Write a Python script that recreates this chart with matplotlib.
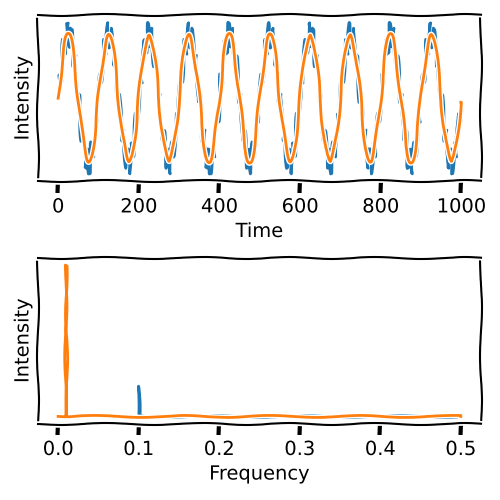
import numpy as np
import matplotlib
matplotlib.use("Agg")
import matplotlib.pyplot as plt

# Values
n_samples = 1000                 # time runs 0..1000
component_freqs = [0.01, 0.1]    # sinusoid frequencies visible in the spectrum
component_amps = [1.0, 0.2]      # relative heights of the spectral peaks
cutoff_freq = 0.05               # orange = low-pass filtered signal
time_ticks = [0, 200, 400, 600, 800, 1000]
freq_ticks = [0.0, 0.1, 0.2, 0.3, 0.4, 0.5]

t = np.arange(n_samples)
raw = np.zeros(n_samples)
filtered = np.zeros(n_samples)
for f, a in zip(component_freqs, component_amps):
    comp = a * np.sin(2 * np.pi * f * t)
    raw += comp
    if f < cutoff_freq:
        filtered += comp

freqs = np.fft.rfftfreq(n_samples)
spec_raw = np.abs(np.fft.rfft(raw))
spec_filt = np.abs(np.fft.rfft(filtered))

with plt.xkcd():
    plt.rcParams['font.family'] = ['DejaVu Sans']
    fig, (ax1, ax2) = plt.subplots(2, 1, figsize=(5, 5), dpi=100)
    fig.subplots_adjust(left=0.076, right=0.962, top=0.97, bottom=0.152, hspace=0.457)

    ax1.plot(t, raw, color='#1f77b4')
    ax1.plot(t, filtered, color='#ff7f0e')
    ax1.set_xticks(time_ticks)
    ax1.set_yticks([])
    ax1.set_xlabel('Time')
    ax1.set_ylabel('Intensity')

    ax2.plot(freqs, spec_raw, color='#1f77b4')
    ax2.plot(freqs, spec_filt, color='#ff7f0e')
    ax2.set_xticks(freq_ticks)
    ax2.set_yticks([])
    ax2.set_xlabel('Frequency')
    ax2.set_ylabel('Intensity')

    fig.savefig('out.png', dpi=100)
